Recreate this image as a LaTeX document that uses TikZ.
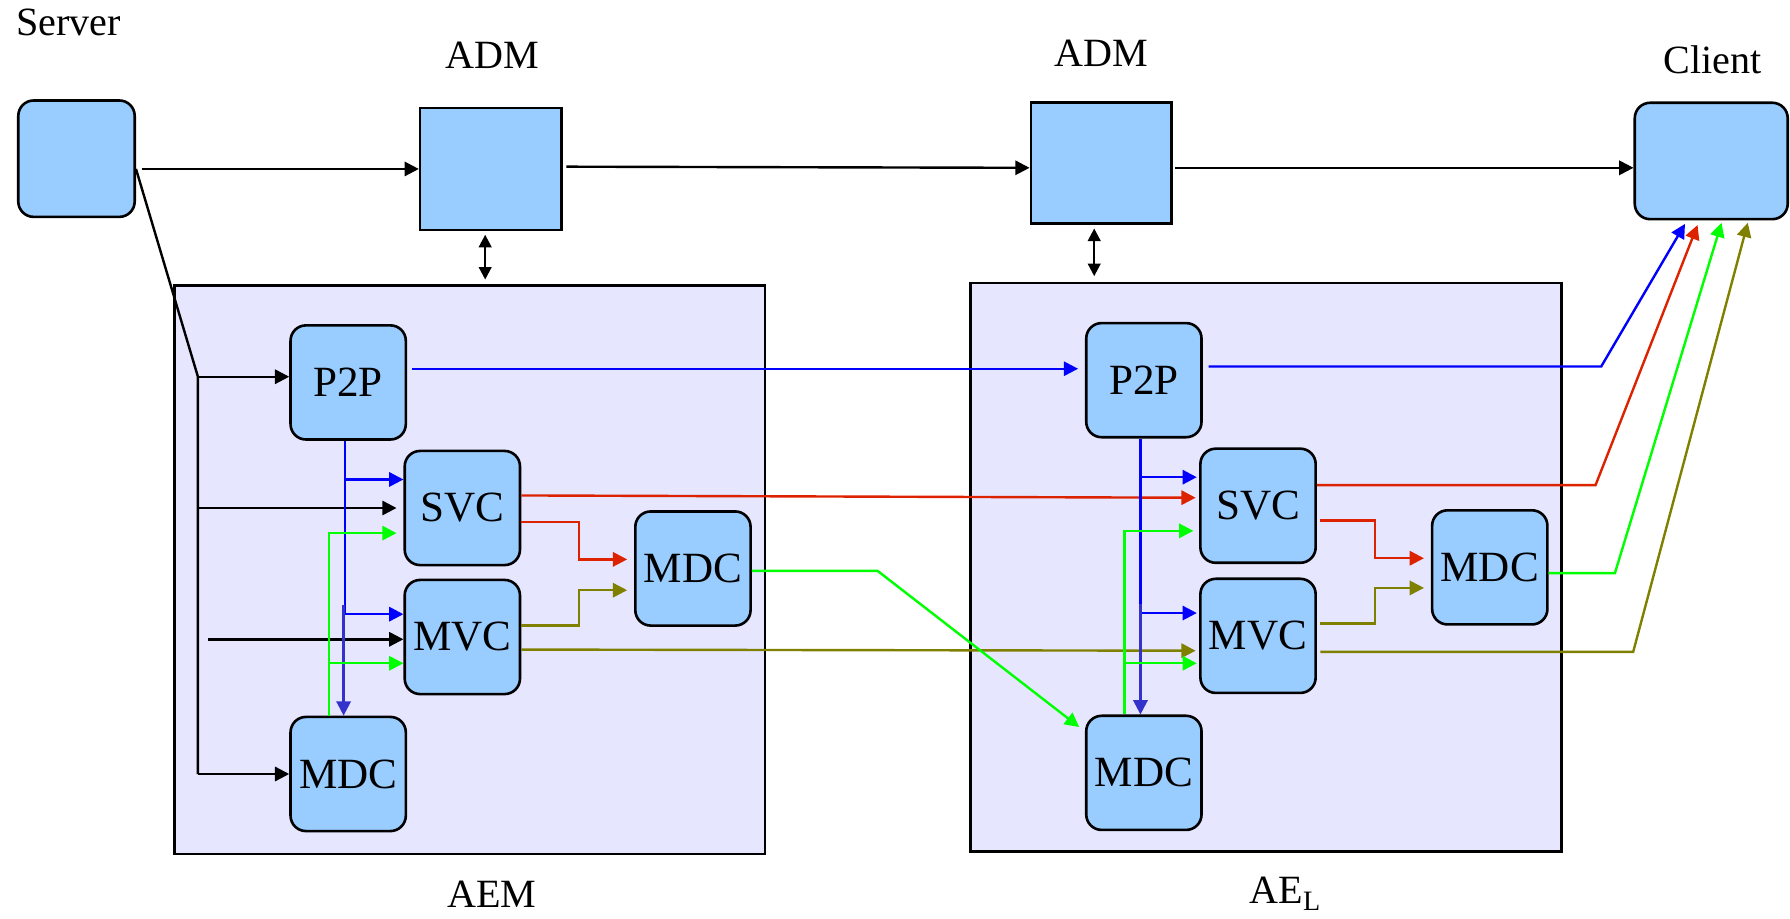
\documentclass[tikz,border=0pt]{standalone}
\usepackage{fontspec}
\setmainfont{Liberation Serif}
\usetikzlibrary{arrows.meta,calc}
\definecolor{boxblue}{HTML}{99CCFF}
\definecolor{lav}{HTML}{E6E6FF}
\definecolor{cblue}{HTML}{0000FF}
\definecolor{cred}{HTML}{DD2200}
\definecolor{cgreen}{HTML}{00FF00}
\definecolor{colive}{HTML}{808000}
\definecolor{cpurp}{HTML}{3333CC}
\begin{document}
\begin{tikzpicture}[x=0.02cm,y=-0.02cm,
  font=\fontsize{21.5}{25}\selectfont,
  rbox/.style={draw=black, line width=1.3pt, fill=boxblue, rounded corners=0.27cm, minimum width=2.02cm, minimum height=2.0cm, inner sep=0pt},
  sbox/.style={draw=black, line width=1.3pt, fill=boxblue, minimum width=2.48cm, minimum height=2.14cm, inner sep=0pt},
  cont/.style={draw=black, line width=1.3pt, fill=lav, minimum width=10.35cm, minimum height=9.96cm, inner sep=0pt},
  lbl/.style={inner sep=0pt, font=\fontsize{20}{24}\selectfont},
  ln/.style={line width=1.2pt},
  arr/.style={line width=1.2pt, -{Triangle[length=0.25cm,width=0.25cm]}},
  dbl/.style={line width=1.2pt, {Triangle[length=0.22cm,width=0.22cm]}-{Triangle[length=0.22cm,width=0.22cm]}},
]
\useasboundingbox (0,0) rectangle (1568,805);

% top row
\node[rbox, minimum width=2.04cm, minimum height=2.04cm] (srv) at (67,139) {};
\node[sbox] (adm1) at (430,148) {};
\node[sbox, minimum width=2.46cm, minimum height=2.12cm] (adm2) at (964.5,143) {};
\node[rbox, minimum width=2.68cm, minimum height=2.04cm] (client) at (1499,141) {};

\node[lbl] (tsrv) at (60,20) {Server};
\node[lbl] (tadm1) at (431,48) {ADM};
\node[lbl] (tadm2) at (965,47) {ADM};
\node[lbl] (tcli) at (1500,52) {Client};

% containers
\node[cont] (aem) at (411.5,499) {};
\node[cont] (ael) at (1109,497) {};
\node[lbl] (taem) at (431,783) {AEM};
\node[lbl] (tael) at (1126,783) {AE\textsubscript{L}};

% left inner
\node[rbox] (p1) at (305,335) {P2P};
\node[rbox] (s1) at (405,445) {SVC};
\node[rbox] (m1) at (405,558) {MVC};
\node[rbox] (d1r) at (607,498) {MDC};
\node[rbox] (d1b) at (305,678) {MDC};

% right inner
\node[rbox] (p2) at (1002,333) {P2P};
\node[rbox] (s2) at (1102,443) {SVC};
\node[rbox] (m2) at (1102,557) {MVC};
\node[rbox] (d2r) at (1305,497) {MDC};
\node[rbox] (d2b) at (1002,677) {MDC};

% top connectors
\coordinate (a0) at ($(srv.east)+(5,0)$);
\draw[arr] (a0 |- adm1.west) -- (adm1.west);
\draw[arr] ($(adm1.east)+(3,-2)$) -- ($(adm2.west)+(0,4)$);
\draw[arr] ($(adm2.east)+(2,4)$) -- ($(client.west)+(0,6)$);
\draw[dbl] ($(adm1.south)+(-5,3)$) -- ($(adm1.south |- aem.north)+(-5,-4)$);
\draw[dbl] ($(adm2.south)+(-6,3)$) -- ($(adm2.south |- ael.north)+(-6,-5)$);

% server bus into AEM
\coordinate (b1) at ($(p1.west)+(-80,-5)$);
\coordinate (b2) at (b1 |- d1b.west);
\draw[ln] ($(srv.east)+(0,9)$) -- (b1) -- (b2);
\draw[arr] (b1) -- (b1 -| p1.west);
\draw[arr] (b1 |- s1.west) -- ($(s1.west)+(-6,0)$);
\draw[arr] (b2) -- (d1b.west);
\draw[arr] ($(m1.west)+(-171,2)$) -- ($(m1.west)+(0,2)$);

% left blue
\coordinate (pb1) at ($(p1.south)+(-3,0)$);
\coordinate (sb1) at ($(s1.west)+(0,-25)$);
\coordinate (mb1) at ($(m1.west)+(0,-20)$);
\draw[ln,cblue] (pb1) -- (pb1 |- mb1);
\draw[arr,cblue] (pb1 |- sb1) -- (sb1);
\draw[arr,cblue] (pb1 |- mb1) -- (mb1);
\draw[arr,cpurp] ($(pb1 |- mb1)+(-1,-8)$) -- ($(pb1 |- d1b.north)+(-1,0)$);

% left green
\coordinate (gb1) at ($(d1b.north)+(-17,0)$);
\coordinate (sg1) at ($(s1.west)+(-6,22)$);
\coordinate (mg1) at ($(m1.west)+(0,23)$);
\draw[arr,cgreen] (gb1) |- (sg1);
\draw[arr,cgreen] (gb1 |- mg1) -- (mg1);

% left red
\draw[arr,cred] ($(s1.east)+(0,-11)$) -- ($(s2.west)+(-3,-7)$);
\draw[arr,cred] ($(s1.east)+(0,12)$) -| ($(d1r.west)+(-48,-8)$) -- ($(d1r.west)+(-6,-8)$);

% left olive
\draw[arr,colive] ($(m1.east)+(0,-10)$) -| ($(d1r.west)+(-48,19)$) -- ($(d1r.west)+(-6,19)$);
\draw[arr,colive] ($(m1.east)+(0,11)$) -- ($(m2.west)+(-3,13)$);

% left MDC green to right MDC
\draw[arr,cgreen] ($(d1r.east)+(0,2)$) -- ++(110,0) -- ($(d2b.north west)+(-5,11)$);

% P2P to P2P
\draw[arr,cblue] ($(p1.east)+(4,-12)$) -- ($(p2.west)+(-6,-10)$);

% right blue
\coordinate (pb2) at ($(p2.south)+(-3,0)$);
\coordinate (sb2) at ($(s2.west)+(-2,-25)$);
\coordinate (mb2) at ($(m2.west)+(-2,-20)$);
\draw[ln,cblue] (pb2) -- (pb2 |- mb2);
\draw[arr,cblue] (pb2 |- sb2) -- (sb2);
\draw[arr,cblue] (pb2 |- mb2) -- (mb2);
\draw[arr,cpurp] ($(pb2 |- mb2)+(0,-8)$) -- (pb2 |- d2b.north);

% right green
\coordinate (gb2) at ($(d2b.north)+(-17,0)$);
\coordinate (sg2) at ($(s2.west)+(-5,22)$);
\coordinate (mg2) at ($(m2.west)+(-2,24)$);
\draw[arr,cgreen] (gb2) |- (sg2);
\draw[arr,cgreen] (gb2 |- mg2) -- (mg2);

% right red
\draw[arr,cred] ($(s2.east)+(0,-18)$) -- ++(244,0) -- ($(client.south)+(-12,4)$);
\draw[arr,cred] ($(s2.east)+(3,13)$) -| ($(d2r.west)+(-49,-8)$) -- ($(d2r.west)+(-6,-8)$);

% right olive
\draw[arr,colive] ($(m2.east)+(3,-11)$) -| ($(d2r.west)+(-49,18)$) -- ($(d2r.west)+(-6,18)$);
\draw[arr,colive] ($(m2.east)+(3,14)$) -- ++(274,0) -- ($(client.south)+(32,2)$);

% right MDC green to client
\draw[arr,cgreen] ($(d2r.east)+(0,5)$) -- ++(58,0) -- ($(client.south)+(9,2)$);

% right P2P blue to client
\draw[arr,cblue] ($(p2.east)+(5,-12)$) -- ++(344,0) -- ($(client.south)+(-23,3)$);

\end{tikzpicture}
\end{document}
